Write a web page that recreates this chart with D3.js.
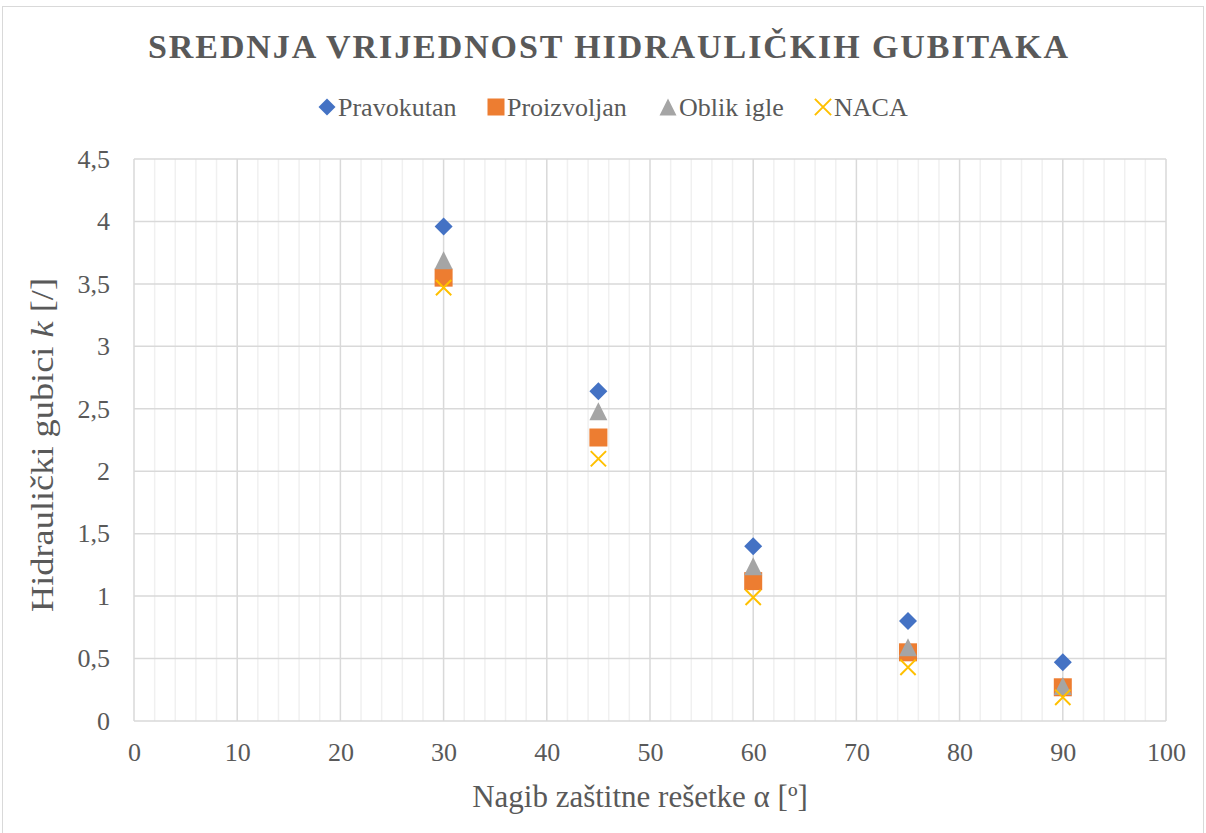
<!DOCTYPE html>
<html>
<head>
<meta charset="utf-8">
<script src="https://cdn.jsdelivr.net/npm/d3@7"></script>
<style>
  body { margin: 0; background: #fff; }
  svg text { font-family: "Liberation Serif", "Times New Roman", serif; fill: #595959; }
</style>
</head>
<body>
<div id="chart"></div>
<script>
// data
const angles = [30, 45, 60, 75, 90];
const pravokutan = [3.96, 2.64, 1.40, 0.80, 0.47];
const proizvoljan = [3.55, 2.27, 1.12, 0.55, 0.27];
const oblikIgle = [3.69, 2.48, 1.24, 0.59, 0.28];
const naca = [3.47, 2.10, 0.99, 0.43, 0.19];
const seriesNames = ["Pravokutan", "Proizvoljan", "Oblik igle", "NACA"];
const xTicks = d3.range(0, 101, 10);
const yTicks = d3.range(0, 4.51, 0.5);

const W = 1206, H = 833;
const margin = { top: 159, right: 40, bottom: 112, left: 134 };
const width = W - margin.left - margin.right;
const height = H - margin.top - margin.bottom;

const colors = ["#4472C4", "#ED7D31", "#A5A5A5", "#FFC000"];
const shapes = ["diamond", "square", "triangle", "cross"];
const allSeries = [pravokutan, proizvoljan, oblikIgle, naca];

const x = d3.scaleLinear().domain([0, 100]).range([0, width]);
const y = d3.scaleLinear().domain([0, 4.5]).range([height, 0]);
const fmt = d => String(d).replace(".", ",");

const svg = d3.select("#chart").append("svg")
  .attr("width", W)
  .attr("height", H);

// chart frame
svg.append("rect")
  .attr("x", 2.5).attr("y", 6.5)
  .attr("width", W - 5).attr("height", H - 4)
  .attr("fill", "none")
  .attr("stroke", "#d9d9d9");

// title
svg.append("text")
  .attr("x", 608)
  .attr("y", 58)
  .attr("text-anchor", "middle")
  .attr("textLength", 920)
  .attr("lengthAdjust", "spacing")
  .style("font-size", "34px")
  .style("font-weight", "bold")
  .text("SREDNJA VRIJEDNOST HIDRAULIČKIH GUBITAKA");

function drawMarker(sel, shape, color, size) {
  const s = size / 2;
  if (shape === "diamond") {
    sel.append("path").attr("d", `M0,${-s}L${s},0L0,${s}L${-s},0Z`).attr("fill", color);
  } else if (shape === "square") {
    sel.append("rect").attr("x", -s).attr("y", -s).attr("width", size).attr("height", size).attr("fill", color);
  } else if (shape === "triangle") {
    sel.append("path").attr("d", `M0,${-s}L${s},${s}L${-s},${s}Z`).attr("fill", color);
  } else {
    const c = s * 0.9;
    sel.append("path").attr("d", `M${-c},${-c}L${c},${c}M${c},${-c}L${-c},${c}`)
      .attr("stroke", color).attr("stroke-width", 2).attr("fill", "none");
  }
}

// legend
const legendX = [327, 496, 668, 823];
const legend = svg.append("g").attr("transform", "translate(0,107)");
seriesNames.forEach((name, i) => {
  const g = legend.append("g").attr("transform", `translate(${legendX[i]},0)`);
  drawMarker(g, shapes[i], colors[i], i === 3 ? 18 : 17);
  g.append("text")
    .attr("x", 11)
    .attr("y", 8.5)
    .style("font-size", "26px")
    .text(name);
});

const plot = svg.append("g")
  .attr("transform", `translate(${margin.left},${margin.top})`);

// minor vertical gridlines
plot.append("g").selectAll("line")
  .data(d3.range(2, 100, 2).filter(d => d % 10 !== 0))
  .enter().append("line")
  .attr("x1", d => x(d)).attr("x2", d => x(d))
  .attr("y1", 0).attr("y2", height)
  .attr("stroke", "#f0f0f0").attr("stroke-width", 1.5);

// major gridlines
plot.append("g").selectAll("line")
  .data(xTicks)
  .enter().append("line")
  .attr("x1", d => x(d)).attr("x2", d => x(d))
  .attr("y1", 0).attr("y2", height)
  .attr("stroke", "#d9d9d9").attr("stroke-width", 1.5);

plot.append("g").selectAll("line")
  .data(yTicks)
  .enter().append("line")
  .attr("x1", 0).attr("x2", width)
  .attr("y1", d => y(d)).attr("y2", d => y(d))
  .attr("stroke", "#d9d9d9").attr("stroke-width", 1.5);

// axes (labels only)
const xAxis = plot.append("g")
  .attr("transform", `translate(0,${height})`)
  .call(d3.axisBottom(x).tickValues(xTicks).tickSize(0).tickPadding(22).tickFormat(fmt));
const yAxis = plot.append("g")
  .call(d3.axisLeft(y).tickValues(yTicks).tickSize(0).tickPadding(24).tickFormat(fmt));
[xAxis, yAxis].forEach(a => {
  a.attr("font-family", null).attr("font-size", null);
  a.select(".domain").remove();
  a.selectAll("text")
    .style("font-size", "26px")
    .attr("fill", "#595959");
});

// axis titles
svg.append("text")
  .attr("x", 640)
  .attr("y", 807)
  .attr("text-anchor", "middle")
  .style("font-size", "31px")
  .text("Nagib zaštitne rešetke α [º]");

// the y title is drawn longer than its glyph height suggests (stretched picture)
const yTitle = svg.append("text")
  .attr("transform", "translate(53,445) rotate(-90)")
  .attr("text-anchor", "middle")
  .attr("textLength", 334)
  .attr("lengthAdjust", "spacingAndGlyphs")
  .style("font-size", "31px");
yTitle.append("tspan").text("Hidraulički gubici ");
yTitle.append("tspan").style("font-style", "italic").text("k");
yTitle.append("tspan").text(" [/]");

// points
allSeries.forEach((vals, i) => {
  const pts = plot.append("g").selectAll("g")
    .data(angles.map((a, j) => ({ a, v: vals[j] })))
    .enter().append("g")
    .attr("transform", d => `translate(${x(d.a)},${y(d.v)})`);
  pts.each(function() {
    drawMarker(d3.select(this), shapes[i], colors[i], i === 3 ? 17 : 18);
  });
});
</script>
</body>
</html>
